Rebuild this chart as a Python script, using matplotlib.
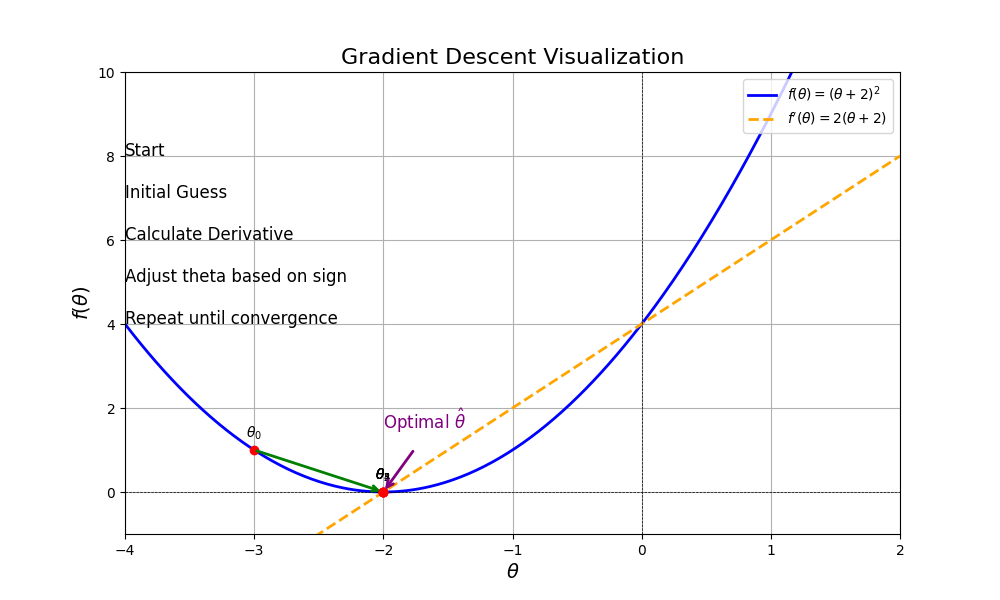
import numpy as np
import matplotlib.pyplot as plt

theta_points = [-3.0, -2.0, -2.0, -2.0, -2.0, -2.0]
step_texts = ["Start", "Initial Guess", "Calculate Derivative",
              "Adjust theta based on sign", "Repeat until convergence"]
step_y = [8, 7, 6, 5, 4]


def f(t):
    return (t + 2) ** 2


def df(t):
    return 2 * (t + 2)


theta = np.linspace(-4, 2, 400)
fig, ax = plt.subplots(figsize=(10, 6))
ax.plot(theta, f(theta), color='blue', lw=2, label=r'$f(\theta) = (\theta + 2)^2$')
ax.plot(theta, df(theta), color='orange', lw=2, ls='--', label=r"$f'(\theta) = 2(\theta + 2)$")
ax.axhline(0, color='black', lw=0.5, ls='--')
ax.axvline(0, color='black', lw=0.5, ls='--')

for i, t in enumerate(theta_points):
    ax.plot(t, f(t), 'ro')
    ax.text(t, f(t) + 0.3, r'$\theta_{%d}$' % i, ha='center', fontsize=10)
    if i > 0:
        p = theta_points[i - 1]
        ax.annotate('', xy=(t, f(t)), xytext=(p, f(p)),
                    arrowprops=dict(arrowstyle='->', color='green', lw=2))

for s, y in zip(step_texts, step_y):
    ax.text(-4, y, s, fontsize=12)

ax.annotate(r'Optimal $\hat{\theta}$', xy=(-2, 0), xytext=(-2, 1.5),
            color='purple', fontsize=12,
            arrowprops=dict(arrowstyle='->', color='purple', lw=2,
                            shrinkA=12, relpos=(0.5, 0)))

ax.set_xlim(-4, 2)
ax.set_ylim(-1, 10)
ax.set_title('Gradient Descent Visualization', fontsize=16)
ax.set_xlabel(r'$\theta$', fontsize=14)
ax.set_ylabel(r'$f(\theta)$', fontsize=14)
ax.grid(True)
ax.legend(loc='upper right')
fig.savefig('out.png', dpi=100)
